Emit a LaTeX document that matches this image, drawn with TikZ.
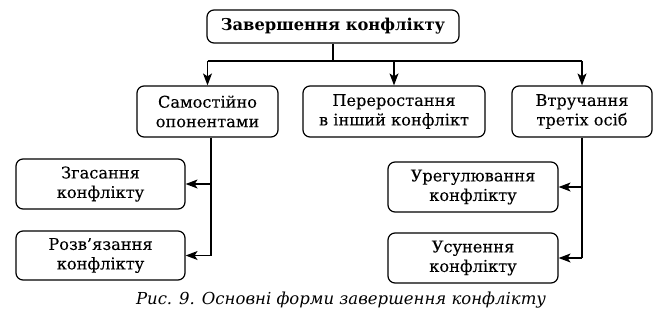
\documentclass[tikz,border=0pt]{standalone}
\usepackage{fontspec}
\setmainfont[UprightFeatures={FakeBold=0.06}]{DejaVu Serif}
\usetikzlibrary{arrows.meta}
\begin{document}
\begin{tikzpicture}[x=1pt,y=-1pt,
  box/.style={draw, line width=1.2pt, rounded corners=7pt, align=center, inner sep=0pt,
    font=\fontsize{16.2}{19.5}\selectfont},
  conn/.style={line width=1.2pt},
  arr/.style={line width=1.2pt, -{Stealth[length=12pt,width=9pt,inset=3pt]}}]
\useasboundingbox (0,0) rectangle (658,327);
\node[box, minimum width=252pt, minimum height=33pt, font=\fontsize{16.3}{19}\selectfont\bfseries] (top) at (333,26.5) {Завершення конфлікту};
\node[box, minimum width=141pt, minimum height=51pt] (m1) at (207.5,111.5) {Самостійно\\опонентами};
\node[box, minimum width=182pt, minimum height=51pt] (m2) at (394,111.5) {Переростання\\в інший конфлікт};
\node[box, minimum width=140pt, minimum height=51pt] (m3) at (582,111.5) {Втручання\\третіх осіб};
\node[box, minimum width=169pt, minimum height=50pt] (l1) at (100.5,184) {Згасання\\конфлікту};
\node[box, minimum width=169pt, minimum height=49pt] (l2) at (100.5,255.5) {Розв’язання\\конфлікту};
\node[box, minimum width=170pt, minimum height=50pt] (r1) at (473,187) {Урегулювання\\конфлікту};
\node[box, minimum width=170pt, minimum height=50pt] (r2) at (473,258) {Усунення\\конфлікту};
\coordinate (j) at (333,61);
\coordinate (jl) at (207.5,61);
\coordinate (jr) at (582,61);
\draw[conn] (top.south) -- (j);
\draw[conn] (jl) -- (jr);
\draw[arr] (jl) -- (m1.north);
\draw[arr] (j -| m2.north) -- (m2.north);
\draw[arr] (jr) -- (m3.north);
\coordinate (lb) at (211,255.5);
\draw[conn] (m1.south -| lb) -- (lb);
\draw[arr] (lb |- l1.east) -- (l1.east);
\draw[arr] (lb) -- (l2.east);
\coordinate (rb) at (582,258);
\draw[conn] (m3.south) -- (rb);
\draw[arr] (rb |- r1.east) -- (r1.east);
\draw[arr] (rb) -- (r2.east);
\node[font=\fontsize{16.5}{19}\selectfont\itshape] (cap) at (341,300) {Рис. 9. Основні форми завершення конфлікту};
\end{tikzpicture}
\end{document}
